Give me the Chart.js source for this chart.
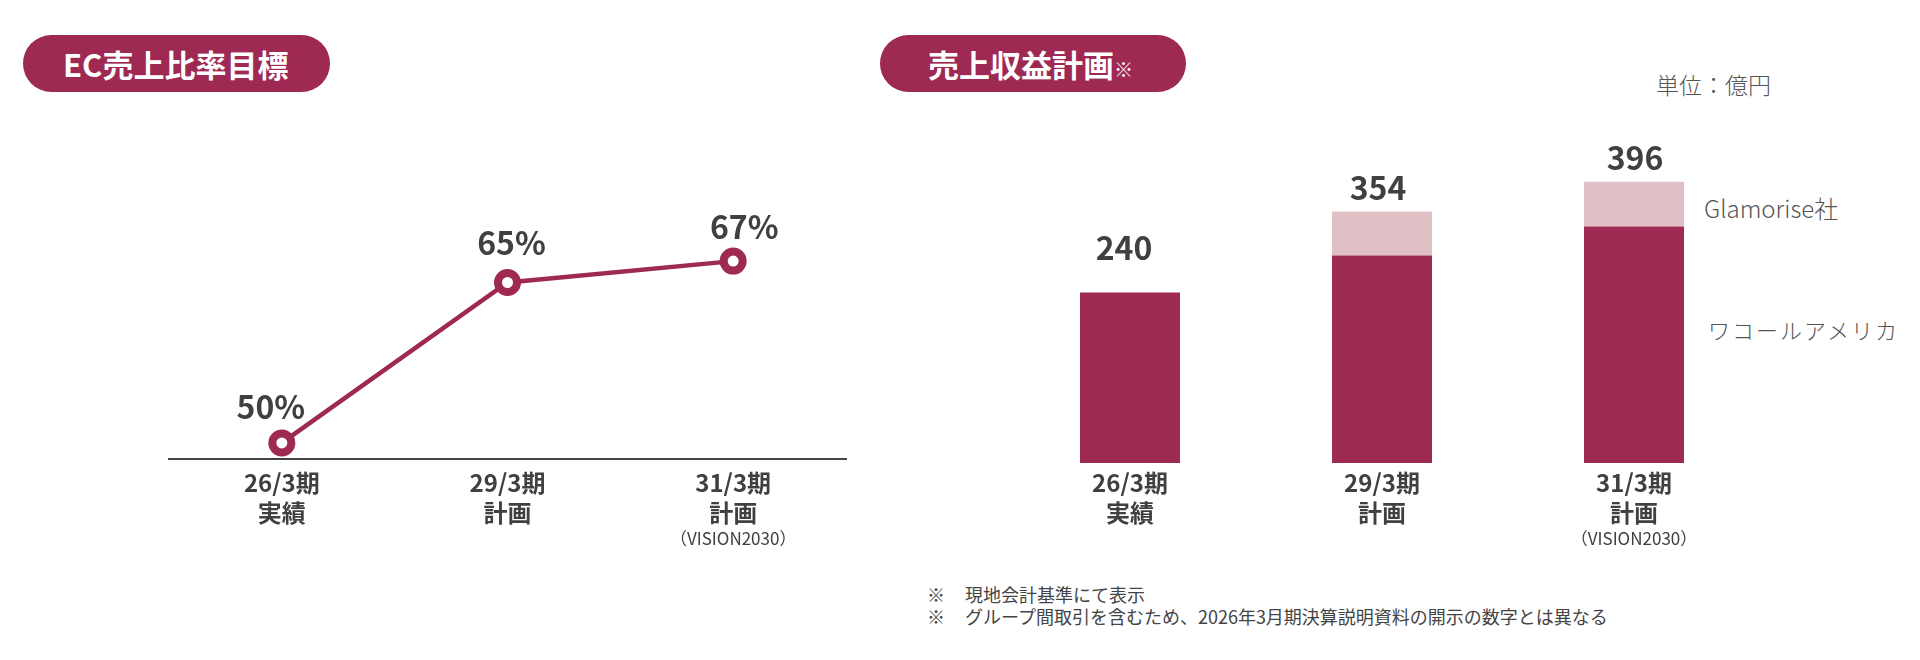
<!DOCTYPE html>
<html lang="ja">
<head>
<meta charset="utf-8">
<script src="https://cdn.jsdelivr.net/npm/chart.js@4.4.1/dist/chart.umd.min.js"></script>
<style>
  html, body { margin: 0; padding: 0; background: #fff; }
  body { width: 1920px; height: 660px; position: relative; overflow: hidden;
         font-family: "Noto Sans CJK JP", "Noto Sans", sans-serif; color: #404040; }
  .pill { position: absolute; height: 57px; border-radius: 29px; background: #9E2952;
          color: #fff; font-weight: 700; font-size: 31px; line-height: 57px; box-sizing: border-box; }
  .pill small { font-size: 19px; font-weight: 400; }
  .abs { position: absolute; white-space: nowrap; }
  canvas { position: absolute; top: 0; }
</style>
</head>
<body>
<div class="pill" style="left:23px; top:35px; width:307px; padding-left:40px;">EC売上比率目標</div>
<div class="pill" style="left:880px; top:35px; width:306px; padding-left:48px;">売上収益計画<small>※</small></div>
<div class="abs" id="unit" style="left:1656px; top:67px; font-size:23px; font-weight:300; color:#555;"></div>
<div class="abs" id="lg1" style="left:1704px; top:190px; font-size:24px; font-weight:300; color:#555;"></div>
<div class="abs" id="lg2" style="left:1708px; top:313px; font-size:22px; font-weight:300; color:#555; letter-spacing:2px;"></div>
<div class="abs" id="notes" style="left:927px; top:583px; font-size:18px; line-height:22px; color:#444;"></div>

<canvas id="lineChart" style="left:0;"></canvas>
<canvas id="barChart" style="left:960px;"></canvas>

<script>
// ---- data ----
const categories = [['26/3期', '実績'], ['29/3期', '計画'], ['31/3期', '計画']];
const subLabels = ['', '', '（VISION2030）'];
const ecRatio = [50, 65, 67];
const ecRatioLabels = ['50%', '65%', '67%'];
const wacoalAmerica = [240, 292, 333];
const glamorise = [0, 62, 63];
const revenueTotals = [240, 354, 396];
const seriesNames = ['ワコールアメリカ', 'Glamorise社'];
const unitText = '単位：億円';
const footnotes = ['現地会計基準にて表示', 'グループ間取引を含むため、2026年3月期決算説明資料の開示の数字とは異なる'];

// ---- static texts ----
document.getElementById('unit').textContent = unitText;
document.getElementById('lg1').textContent = seriesNames[1];
document.getElementById('lg2').textContent = seriesNames[0];
document.getElementById('notes').innerHTML = footnotes
  .map(t => '<span style="display:inline-block;width:38px">※</span>' + t).join('<br>');

const DARK = '#9E2952';
const LIGHT = '#E0C1C5';
const TEXT = '#404040';
const FONT = '"Noto Sans CJK JP", "Noto Sans", sans-serif';

function setupCanvas(id) {
  const c = document.getElementById(id);
  c.width = 960; c.height = 660;
  c.style.width = '960px'; c.style.height = '660px';
  return c;
}

const subLabelPlugin = {
  id: 'subLabels',
  afterDraw(chart, args, opts) {
    const ctx = chart.ctx, x = chart.scales.x;
    ctx.save();
    ctx.font = '400 17px ' + FONT;
    ctx.fillStyle = TEXT;
    ctx.textAlign = 'center';
    ctx.textBaseline = 'middle';
    subLabels.forEach((t, i) => { if (t) ctx.fillText(t, x.getPixelForValue(i), opts.y); });
    ctx.restore();
  }
};

const valueLabelPlugin = {
  id: 'valueLabels',
  afterDatasetsDraw(chart, args, opts) {
    const ctx = chart.ctx, x = chart.scales.x, y = chart.scales.y;
    ctx.save();
    ctx.font = '700 32px ' + FONT;
    ctx.fillStyle = TEXT;
    ctx.textAlign = 'center';
    ctx.textBaseline = 'middle';
    opts.values.forEach((v, i) => {
      ctx.fillText(opts.texts[i], x.getPixelForValue(i) + opts.dx[i], y.getPixelForValue(v) + opts.dy[i]);
    });
    ctx.restore();
  }
};

Chart.defaults.font.family = FONT;
Chart.defaults.animation = false;
Chart.defaults.responsive = false;

// ---- line chart ----
new Chart(setupCanvas('lineChart'), {
  type: 'line',
  data: {
    labels: categories,
    datasets: [{
      data: ecRatio,
      borderColor: DARK,
      borderWidth: 4.5,
      pointRadius: 9.5,
      pointBorderWidth: 8,
      pointBackgroundColor: '#fff',
      pointBorderColor: DARK,
      clip: false,
      tension: 0
    }]
  },
  options: {
    layout: { padding: { left: 169, right: 114, top: 121, bottom: 0 } },
    plugins: {
      legend: { display: false }, tooltip: { enabled: false },
      subLabels: { y: 539 },
      valueLabels: { values: ecRatio, texts: ecRatioLabels, dx: [-11, 4, 11], dy: [-36, -40, -34] }
    },
    scales: {
      x: {
        offset: true,
        grid: { display: false, drawTicks: false },
        border: { display: true, color: '#444', width: 2 },
        ticks: { color: TEXT, padding: 9, font: { size: 24, weight: 700, lineHeight: 1.25 }, maxRotation: 0, autoSkip: false },
        afterFit(s) { s.height = 201; }
      },
      y: { display: false, min: 48.5, max: 80.1 }
    }
  },
  plugins: [subLabelPlugin, valueLabelPlugin]
});

// ---- bar chart ----
new Chart(setupCanvas('barChart'), {
  type: 'bar',
  data: {
    labels: categories,
    datasets: [
      { label: seriesNames[0], data: wacoalAmerica, backgroundColor: DARK, borderWidth: 0 },
      { label: seriesNames[1], data: glamorise, backgroundColor: LIGHT, borderWidth: 0 }
    ]
  },
  options: {
    layout: { padding: { left: 44, right: 160, top: 100, bottom: 0 } },
    datasets: { bar: { categoryPercentage: 1, barPercentage: 0.397 } },
    plugins: {
      legend: { display: false }, tooltip: { enabled: false },
      subLabels: { y: 539 },
      valueLabels: { values: revenueTotals, texts: revenueTotals.map(String), dx: [-6, -4, 1], dy: [-45, -24, -24] }
    },
    scales: {
      x: {
        stacked: true,
        grid: { display: false, drawTicks: false },
        border: { display: false },
        ticks: { color: TEXT, padding: 5, font: { size: 24, weight: 700, lineHeight: 1.25 }, maxRotation: 0, autoSkip: false },
        afterFit(s) { s.height = 197; }
      },
      y: { stacked: true, display: false, min: 0, max: 511 }
    }
  },
  plugins: [subLabelPlugin, valueLabelPlugin]
});
</script>
</body>
</html>
